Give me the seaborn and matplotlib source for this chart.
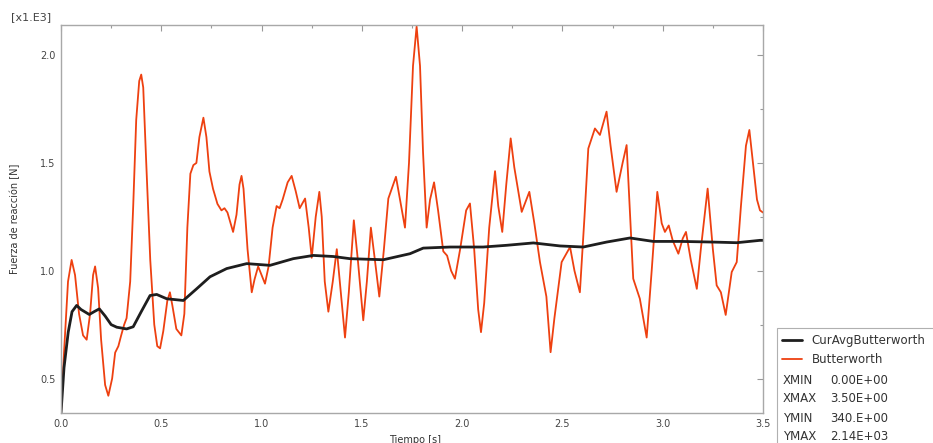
import matplotlib
matplotlib.use('Agg')
import matplotlib.pyplot as plt
from matplotlib.patches import Rectangle
from matplotlib.ticker import MultipleLocator
import pandas as pd
import seaborn as sns

# --- data, force in units of 1e3 N ---
butter_t = [0.000, 0.015, 0.035, 0.053, 0.070, 0.090, 0.110, 0.128, 0.145, 0.160,
            0.170, 0.185, 0.200, 0.220, 0.236, 0.255, 0.270, 0.286, 0.300, 0.315,
            0.327, 0.345, 0.360, 0.375, 0.390, 0.400, 0.410, 0.425, 0.445, 0.465,
            0.480, 0.494, 0.510, 0.530, 0.543, 0.555, 0.575, 0.600, 0.615, 0.630,
            0.645, 0.660, 0.675, 0.690, 0.710, 0.725, 0.740, 0.758, 0.780, 0.800,
            0.815, 0.830, 0.858, 0.875, 0.890, 0.900, 0.910, 0.930, 0.951, 0.965,
            0.983, 1.000, 1.017, 1.035, 1.055, 1.075, 1.090, 1.105, 1.130, 1.150,
            1.170, 1.190, 1.217, 1.235, 1.250, 1.270, 1.288, 1.300, 1.315, 1.333,
            1.355, 1.375, 1.390, 1.416, 1.435, 1.460, 1.480, 1.507, 1.525, 1.545,
            1.565, 1.587, 1.610, 1.632, 1.670, 1.690, 1.715, 1.735, 1.755, 1.773,
            1.790, 1.805, 1.823, 1.840, 1.860, 1.880, 1.906, 1.925, 1.945, 1.964,
            1.990, 2.020, 2.039, 2.060, 2.080, 2.094, 2.110, 2.135, 2.164, 2.180,
            2.200, 2.220, 2.242, 2.260, 2.297, 2.335, 2.360, 2.388, 2.420, 2.441,
            2.460, 2.496, 2.538, 2.560, 2.587, 2.610, 2.629, 2.662, 2.687, 2.720,
            2.740, 2.770, 2.800, 2.820, 2.835, 2.853, 2.886, 2.920, 2.945, 2.973,
            2.995, 3.011, 3.030, 3.050, 3.078, 3.100, 3.116, 3.140, 3.170, 3.190,
            3.224, 3.250, 3.269, 3.290, 3.314, 3.344, 3.369, 3.390, 3.415, 3.432,
            3.450, 3.470, 3.485, 3.500]
butter_f = [0.34, 0.62, 0.95, 1.05, 0.98, 0.80, 0.70, 0.68, 0.80, 0.98,
            1.02, 0.92, 0.68, 0.47, 0.42, 0.50, 0.62, 0.65, 0.70, 0.75,
            0.78, 0.95, 1.30, 1.70, 1.88, 1.91, 1.85, 1.50, 1.05, 0.75,
            0.65, 0.64, 0.72, 0.86, 0.90, 0.84, 0.73, 0.70, 0.80, 1.20,
            1.45, 1.49, 1.50, 1.62, 1.71, 1.62, 1.46, 1.38, 1.31, 1.28,
            1.29, 1.27, 1.18, 1.26, 1.40, 1.44, 1.38, 1.10, 0.90, 0.96,
            1.02, 0.98, 0.94, 1.02, 1.20, 1.30, 1.29, 1.33, 1.41, 1.44,
            1.37, 1.29, 1.335, 1.20, 1.06, 1.25, 1.366, 1.25, 0.95, 0.81,
            0.95, 1.10, 0.95, 0.69, 0.90, 1.234, 1.05, 0.77, 0.95, 1.20,
            1.05, 0.88, 1.10, 1.335, 1.436, 1.33, 1.20, 1.50, 1.95, 2.133,
            1.95, 1.55, 1.20, 1.33, 1.41, 1.28, 1.09, 1.07, 1.00, 0.963,
            1.10, 1.28, 1.312, 1.10, 0.82, 0.715, 0.85, 1.20, 1.462, 1.30,
            1.18, 1.40, 1.614, 1.48, 1.273, 1.366, 1.22, 1.04, 0.88, 0.622,
            0.78, 1.04, 1.11, 1.00, 0.90, 1.25, 1.567, 1.66, 1.63, 1.738,
            1.58, 1.366, 1.50, 1.583, 1.30, 0.963, 0.87, 0.69, 1.00, 1.366,
            1.22, 1.18, 1.21, 1.14, 1.079, 1.15, 1.18, 1.05, 0.916, 1.10,
            1.381, 1.10, 0.932, 0.90, 0.795, 0.994, 1.04, 1.30, 1.58, 1.653,
            1.50, 1.33, 1.28, 1.27]

avg_t = [0.000, 0.015, 0.036, 0.055, 0.078, 0.100, 0.141, 0.165, 0.191, 0.220,
         0.250, 0.278, 0.327, 0.360, 0.400, 0.444, 0.477, 0.527, 0.610, 0.676,
         0.743, 0.826, 0.926, 1.042, 1.158, 1.258, 1.358, 1.440, 1.607, 1.740,
         1.806, 1.940, 2.105, 2.222, 2.355, 2.488, 2.604, 2.720, 2.837, 2.953,
         3.090, 3.252, 3.369, 3.485, 3.500]
avg_f = [0.34, 0.55, 0.715, 0.81, 0.839, 0.82, 0.797, 0.81, 0.823, 0.79,
         0.75, 0.738, 0.73, 0.74, 0.81, 0.885, 0.89, 0.87, 0.862, 0.916,
         0.972, 1.01, 1.033, 1.025, 1.056, 1.071, 1.066, 1.056, 1.051, 1.079,
         1.105, 1.11, 1.11, 1.118, 1.129, 1.115, 1.11, 1.133, 1.152, 1.136,
         1.136, 1.133, 1.13, 1.141, 1.141]

info_rows = [('XMIN', '0.00E+00'), ('XMAX', '3.50E+00'),
             ('YMIN', '340.E+00'), ('YMAX', '2.14E+03')]

df_b = pd.DataFrame({'Tiempo': butter_t, 'Fuerza': butter_f})
df_a = pd.DataFrame({'Tiempo': avg_t, 'Fuerza': avg_f})

sns.set_style('white')
plt.rcParams['font.family'] = ['DejaVu Sans']

fig = plt.figure(figsize=(9.33, 4.43), dpi=100)
ax = fig.add_axes([61 / 933, 1 - 413 / 443, 702 / 933, 388 / 443])

sns.lineplot(data=df_b, x='Tiempo', y='Fuerza', ax=ax, color='#ee4010',
             linewidth=1.3, sort=False, estimator=None, label='Butterworth')
sns.lineplot(data=df_a, x='Tiempo', y='Fuerza', ax=ax, color='#1e1e1e',
             linewidth=2.0, sort=False, estimator=None, label='CurAvgButterworth')

ax.set_xlim(0, 3.5)
ax.set_ylim(0.34, 2.14)
ax.xaxis.set_major_locator(MultipleLocator(0.5))
ax.xaxis.set_minor_locator(MultipleLocator(0.25))
ax.yaxis.set_major_locator(MultipleLocator(0.5))
ax.yaxis.set_minor_locator(MultipleLocator(0.25))
ax.tick_params(which='both', direction='in', top=True, right=True,
               colors='#999999', labelcolor='#444444', labelsize=7, width=0.8)
ax.tick_params(which='major', length=4, pad=4)
ax.tick_params(which='minor', length=2.5)
for s in ax.spines.values():
    s.set_color('#a8a8a8')
    s.set_linewidth(1.0)

ax.set_xlabel('Tiempo [s]', fontsize=7, color='#333333')
ax.set_ylabel('Fuerza de reacción [N]', fontsize=7, color='#333333')
ax.xaxis.set_label_coords(0.504, -0.056)
ax.yaxis.set_label_coords(-0.058, 0.5)

fig.text(11 / 933, 1 - 17 / 443, '[x1.E3]', fontsize=8, color='#444444',
         va='center', ha='left')

# legend box in the lower right corner
ax.get_legend().remove()
handles, labels = ax.get_legend_handles_labels()
order = [1, 0]
fig.patches.append(Rectangle((777 / 933, -0.05), 0.3, 0.05 + 1 - 328 / 443,
                             transform=fig.transFigure, facecolor='white',
                             edgecolor='#b0b0b0', linewidth=0.8))
fig.legend([handles[i] for i in order], [labels[i] for i in order],
           loc='upper left', bbox_to_anchor=(779 / 933, 1 - 331 / 443),
           frameon=False, fontsize=8.5, handlelength=1.7, handletextpad=0.8,
           labelspacing=0.55, borderpad=0.25, borderaxespad=0,
           labelcolor='#333333')
for i, (k, v) in enumerate(info_rows):
    y = 1 - (380 + 19 * i) / 443
    fig.text(783 / 933, y, k, fontsize=8.5, color='#333333', va='center')
    fig.text(830 / 933, y, v, fontsize=8.5, color='#333333', va='center')

fig.savefig('out.png', dpi=100)
